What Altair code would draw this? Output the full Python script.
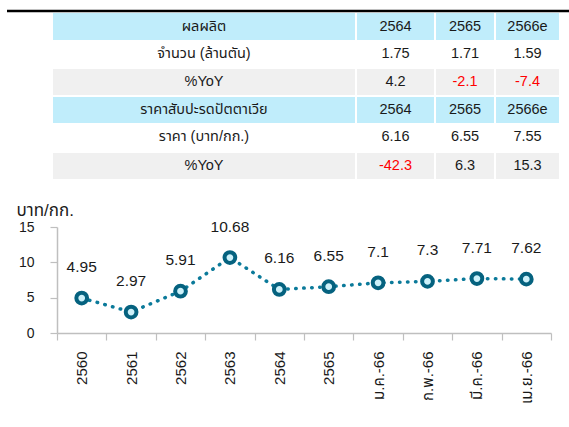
import altair as alt
import pandas as pd

FONT = "Liberation Sans, Arial, Noto Sans Thai, sans-serif"

# ---------------- data ----------------
categories = ["2560", "2561", "2562", "2563", "2564", "2565",
              "ม.ค.-66", "ก.พ.-66", "มี.ค.-66", "เม.ย.-66"]
prices = [4.95, 2.97, 5.91, 10.68, 6.16, 6.55, 7.1, 7.3, 7.71, 7.62]
price_labels = ["4.95", "2.97", "5.91", "10.68", "6.16", "6.55", "7.1", "7.3", "7.71", "7.62"]

table_rows = [
    ["ผลผลิต", "2564", "2565", "2566e"],
    ["จำนวน (ล้านตัน)", "1.75", "1.71", "1.59"],
    ["%YoY", "4.2", "-2.1", "-7.4"],
    ["ราคาสับปะรดปัตตาเวีย", "2564", "2565", "2566e"],
    ["ราคา (บาท/กก.)", "6.16", "6.55", "7.55"],
    ["%YoY", "-42.3", "6.3", "15.3"],
]
row_kinds = ["head", "white", "gray", "head", "white", "gray"]

# table layout (page pixels)
col_edges = [(53, 355), (357, 434), (436, 494), (496, 559)]
row_edges = [(13, 40), (40, 68), (69, 95), (97, 123), (123, 151), (153, 179)]
fills = {"head": "#C0EDFB", "gray": "#F0F0F0", "white": "#FFFFFF"}

cells, texts = [], []
for r, row in enumerate(table_rows):
    y0, y1 = row_edges[r]
    for c, val in enumerate(row):
        x0, x1 = col_edges[c]
        cells.append(dict(x0=x0, x1=x1, y0=y0, y1=y1, fill=fills[row_kinds[r]]))
        texts.append(dict(x=(x0 + x1) / 2, y=(y0 + y1) / 2, t=val,
                          col="#FF0000" if val.startswith("-") else "#1A1A1A"))
cells_df = pd.DataFrame(cells)
texts_df = pd.DataFrame(texts)
rule_df = pd.DataFrame([dict(x0=7, x1=569, y=11)])

W, H = 494, 106
PL, PT = 57, 227
xs = alt.Scale(domain=[0, 569], range=[-PL, 569 - PL], nice=False, zero=False)
ys = alt.Scale(domain=[0, 427], range=[-PT, 427 - PT], nice=False, zero=False)

cell_layer = alt.Chart(cells_df).mark_rect().encode(
    x=alt.X("x0:Q", scale=xs, axis=None), x2="x1:Q",
    y=alt.Y("y0:Q", scale=ys, axis=None), y2="y1:Q",
    fill=alt.Fill("fill:N", scale=None),
)
text_layer = alt.Chart(texts_df).mark_text(font=FONT, fontSize=14.5, baseline="middle", align="center").encode(
    x=alt.X("x:Q", scale=xs, axis=None),
    y=alt.Y("y:Q", scale=ys, axis=None),
    text="t:N",
    color=alt.Color("col:N", scale=None),
)
rule_layer = alt.Chart(rule_df).mark_rule(color="#000000", strokeWidth=2.5).encode(
    x=alt.X("x0:Q", scale=xs, axis=None), x2="x1:Q",
    y=alt.Y("y:Q", scale=ys, axis=None),
)
table = alt.layer(cell_layer, rule_layer, text_layer)

# ---------------- line chart ----------------
df = pd.DataFrame({"cat": categories, "price": prices, "lab": price_labels})

xenc = alt.X("cat:N", sort=categories,
             scale=alt.Scale(paddingInner=0, paddingOuter=0),
             axis=alt.Axis(title=None, labelAngle=270, labelAlign="right", labelBaseline="middle",
                           labelFontSize=15, labelFont=FONT, labelColor="#1A1A1A",
                           labelPadding=11, tickSize=7, tickBand="extent",
                           domainColor="#BFBFBF", tickColor="#BFBFBF", domainWidth=1.5, tickWidth=1.2))
yenc = alt.Y("price:Q", scale=alt.Scale(domain=[0, 15], nice=False),
             axis=alt.Axis(title="บาท/กก.", titleAngle=0, titleAlign="left", titleBaseline="middle",
                           titleX=-41, titleY=-17, titleFont=FONT, titleFontSize=17,
                           titleFontWeight="normal", titleColor="#1A1A1A",
                           values=[0, 5, 10, 15], grid=False, labelFontSize=14, labelFont=FONT,
                           labelColor="#1A1A1A", labelPadding=16, tickSize=7,
                           domainColor="#BFBFBF", tickColor="#BFBFBF", domainWidth=1.5, tickWidth=1.2))

base = alt.Chart(df)
line = base.mark_line(color="#0B7A9A", strokeWidth=3.5, strokeDash=[0.5, 7.5], strokeCap="round").encode(
    x=xenc, y=yenc)
pts = base.mark_point(shape="circle", filled=True, fill="#CDF1FA", stroke="#05627F",
                      strokeWidth=4, size=115, opacity=1).encode(x=xenc, y=yenc)
labs = base.mark_text(font=FONT, fontSize=15.5, dy=-31, color="#1A1A1A").encode(
    x=xenc, y=yenc, text="lab:N")
linechart = alt.layer(line, pts, labs)

chart = alt.layer(table, linechart).resolve_scale(
    x="independent", y="independent", fill="independent", color="independent"
).properties(
    width=W, height=H,
    padding={"left": PL, "top": PT, "right": 569 - PL - W, "bottom": 427 - PT - H},
    autosize=alt.AutoSizeParams(type="none"),
    background="#FFFFFF",
).configure_view(stroke=None)

chart.save("out.html", embed_options={"renderer": "svg", "actions": False})
